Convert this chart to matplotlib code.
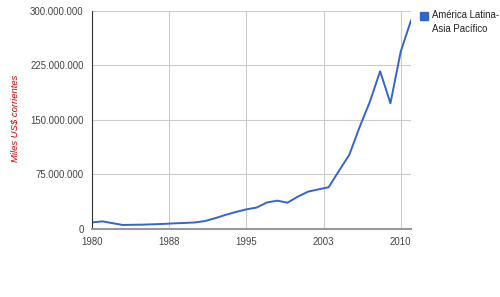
import matplotlib.pyplot as plt
from matplotlib.ticker import FuncFormatter

years = list(range(1980, 2012))
# miles US$ corrientes (millions of the axis unit)
values_m = [9.0, 10.5, 8.0, 5.5, 5.8, 6.0, 6.5, 7.0, 7.8, 8.3,
            9.0, 11.0, 15.0, 19.5, 23.5, 27.0, 29.5, 36.5, 39.0, 36.2,
            44.5, 51.4, 54.5, 57.5, 80.0, 102.0, 140.0, 175.0, 217.0, 173.0,
            244.0, 287.0]
values = [v * 1e6 for v in values_m]

x_ticks = [1980, 1987.5, 1995, 2002.5, 2010]
x_labels = ["1980", "1988", "1995", "2003", "2010"]
y_ticks = [0, 75e6, 150e6, 225e6, 300e6]
series_name = "América Latina-\nAsia Pacífico"

plt.rcParams['font.family'] = ['Liberation Sans', 'DejaVu Sans']

fig = plt.figure(figsize=(5, 2.97), dpi=100)
ax = fig.add_axes([0.184, 0.229, 0.638, 0.734])

ax.plot(years, values, color='#3366cc', lw=1.4)

ax.set_xlim(1980, 2011)
ax.set_ylim(0, 300e6)
ax.set_xticks(x_ticks)
ax.set_xticklabels(x_labels)
ax.set_yticks(y_ticks)
ax.yaxis.set_major_formatter(FuncFormatter(lambda v, p: f"{int(v):,}".replace(",", ".")))

ax.grid(True, color='#cccccc', lw=0.8)
ax.set_axisbelow(True)
ax.tick_params(length=0, labelsize=6.9, colors='#444444', pad=6)

for s in ['top', 'right']:
    ax.spines[s].set_visible(False)
ax.spines['left'].set_color('#333333')
ax.spines['left'].set_linewidth(0.8)
ax.spines['bottom'].set_color('#999999')
ax.spines['bottom'].set_linewidth(1.5)

fig.text(0.03, 0.60, "Miles US$ corrientes", rotation=90, color='#cc0000',
         fontsize=6.8, style='italic', ha='center', va='center')

# legend
fig.patches.append(plt.Rectangle((420 / 500, 1 - 20 / 297), 8 / 500, 8 / 297,
                                 transform=fig.transFigure, color='#3366cc'))
fig.text(432 / 500, 1 - 10 / 297, series_name, fontsize=6.9, color='#222222',
         ha='left', va='top', linespacing=1.45)

fig.savefig("out.png", dpi=100)
